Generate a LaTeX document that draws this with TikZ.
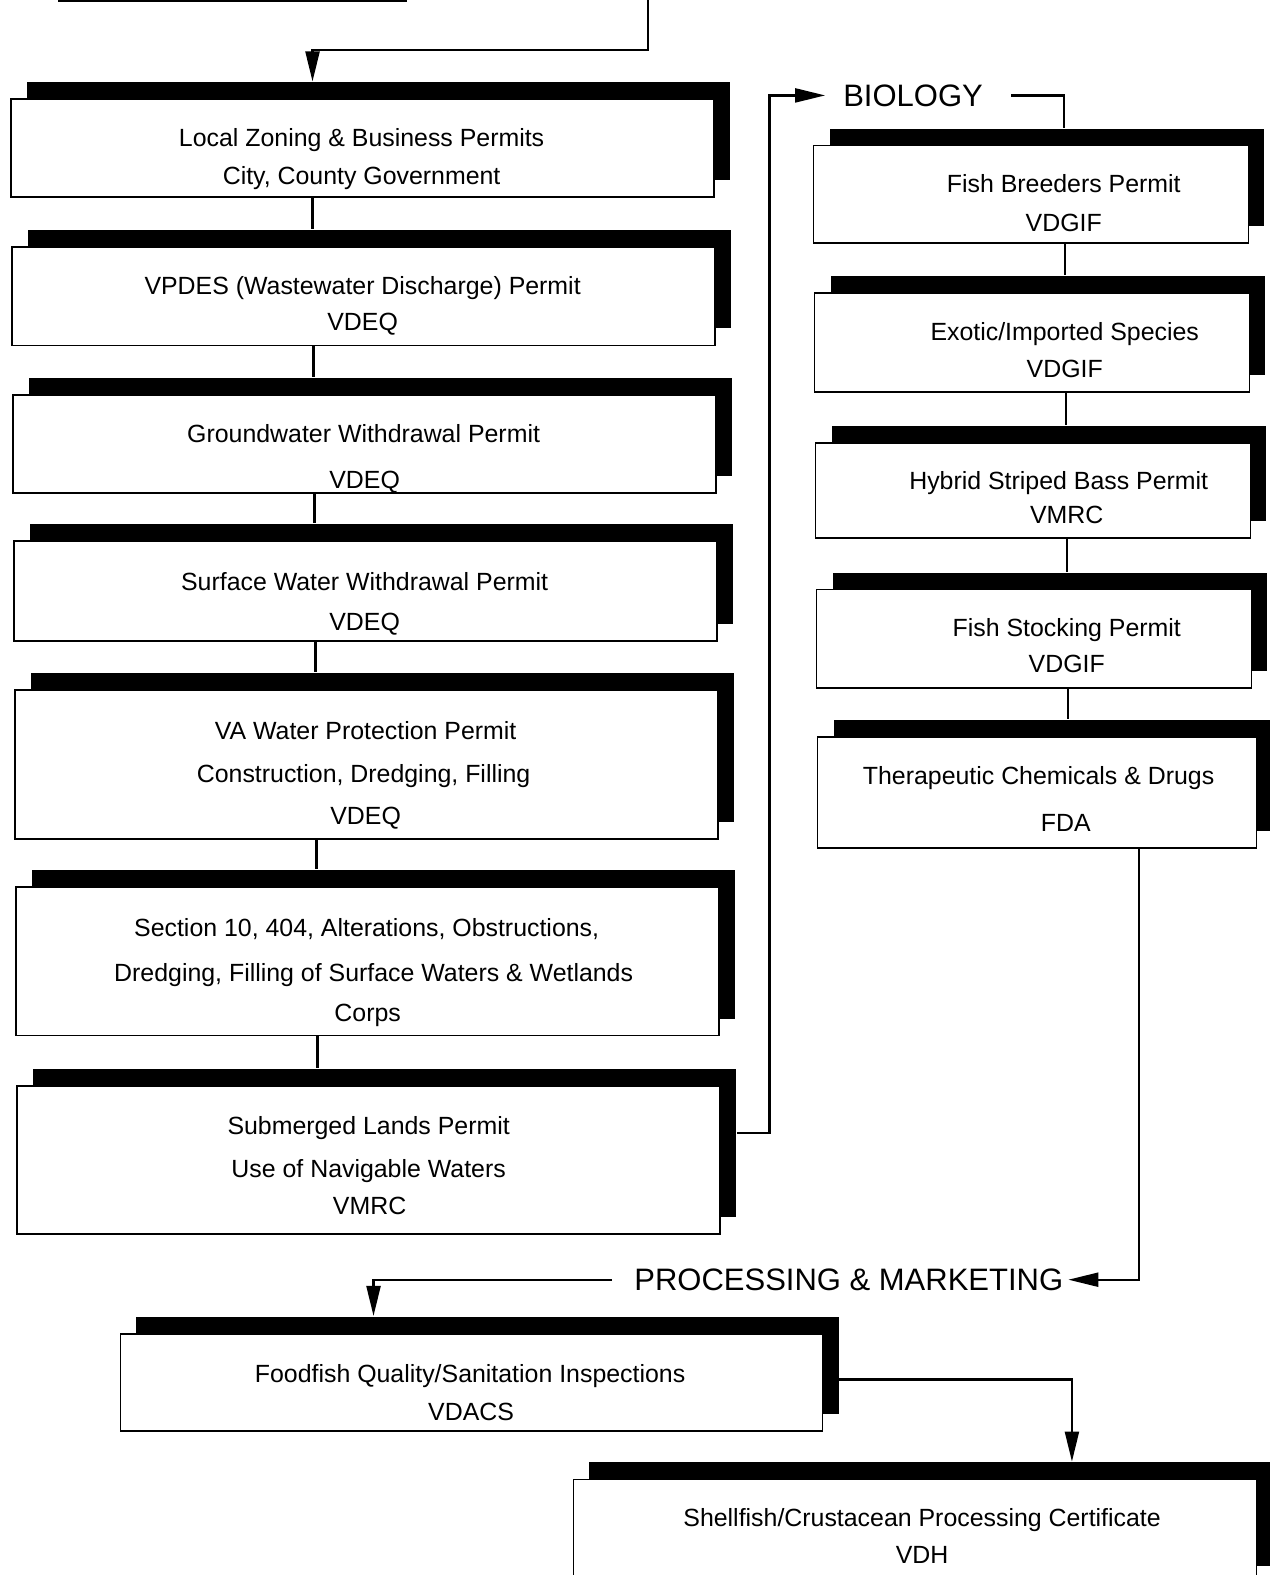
\documentclass[tikz,border=0pt]{standalone}
\usepackage{fontspec}
\setmainfont{Liberation Sans}
\usetikzlibrary{arrows.meta,shadows,calc}
\newcommand\permbox[5]{\node[box,minimum width={(#4-#2)*1.0047pt},minimum height={(#5-#3)*1.0047pt}] (#1) at (#2,#3) {};}
\begin{document}
\begin{tikzpicture}[x=1.0047pt,y=-1.0047pt,
 box/.style={draw,line width=1.8pt,fill=white,inner sep=0pt,anchor=north west,
   general shadow={fill=black,shadow xshift=16pt,shadow yshift=17pt}},
 txt/.style={anchor=base,inner sep=0pt,font=\fontsize{24.9}{29}\selectfont},
 head/.style={inner sep=0pt,font=\fontsize{31}{36}\selectfont},
 conn/.style={line width=2.2pt},
 arr/.style={conn,-{Triangle[length=30pt,width=14pt]}}]
\useasboundingbox (0,0) rectangle (1264,1568);

% fragment of box above
\draw[line width=2.4pt] (58,0.8) -- (405,0.8);
\coordinate (top) at (645,-3);

% left column
\permbox{L1}{10}{98}{710}{195}
\permbox{L2}{11}{245}{711}{343}
\permbox{L3}{12}{392}{712}{490}
\permbox{L4}{13}{538}{713}{637}
\permbox{L5}{14}{686}{714}{834}
\permbox{L6}{15}{882}{715}{1030}
\permbox{L7}{16}{1080}{716}{1228}
% right column
\permbox{R1}{809}{144}{1242}{241}
\permbox{R2}{810}{291}{1243}{389}
\permbox{R3}{811}{440}{1244}{535}
\permbox{R4}{812}{586}{1245}{684}
\permbox{R5}{813}{733}{1250}{843}
% processing
\permbox{P1}{119}{1327}{818}{1424}
\permbox{P2}{570}{1472}{1250}{1575}

% texts
\node[txt] (t1a) at (360,146) {Local Zoning \& Business Permits};
\node[txt] (t1b) at (360,184) {City, County Government};
\node[txt] (t2a) at (361,293) {VPDES (Wastewater Discharge) Permit};
\node[txt] (t2b) at (361,329) {VDEQ};
\node[txt] (t3a) at (362,441) {Groundwater Withdrawal Permit};
\node[txt] (t3b) at (363,486) {VDEQ};
\node[txt] (t4a) at (363,588) {Surface Water Withdrawal Permit};
\node[txt] (t4b) at (363,628) {VDEQ};
\node[txt] (t5a) at (364,736) {VA Water Protection Permit};
\node[txt] (t5b) at (362,779) {Construction, Dredging, Filling};
\node[txt] (t5c) at (364,821) {VDEQ};
\node[txt] (t6a) at (365,932) {Section 10, 404, Alterations, Obstructions,};
\node[txt] (t6b) at (372,977) {Dredging, Filling of Surface Waters \& Wetlands};
\node[txt] (t6c) at (366,1017) {Corps};
\node[txt] (t7a) at (367,1129) {Submerged Lands Permit};
\node[txt] (t7b) at (367,1172) {Use of Navigable Waters};
\node[txt] (t7c) at (368,1209) {VMRC};

\node[txt] (r1a) at (1059,192) {Fish Breeders Permit};
\node[txt] (r1b) at (1059,230) {VDGIF};
\node[txt] (r2a) at (1060,339) {Exotic/Imported Species};
\node[txt] (r2b) at (1060,376) {VDGIF};
\node[txt] (r3a) at (1054,487) {Hybrid Striped Bass Permit};
\node[txt] (r3b) at (1062,521) {VMRC};
\node[txt] (r4a) at (1062,634) {Fish Stocking Permit};
\node[txt] (r4b) at (1062,670) {VDGIF};
\node[txt] (r5a) at (1034,781) {Therapeutic Chemicals \& Drugs};
\node[txt] (r5b) at (1061,828) {FDA};

\node[txt] (p1a) at (468,1376) {Foodfish Quality/Sanitation Inspections};
\node[txt] (p1b) at (469,1414) {VDACS};
\node[txt] (p2a) at (918,1520) {Shellfish/Crustacean Processing Certificate};
\node[txt] (p2b) at (918,1557) {VDH};

% headings
\node[head] (bio) at (909,95) {BIOLOGY};
\node[head] (proc) at (845,1274) {PROCESSING \& MARKETING};

% connectors
\draw[arr] (top) -- (645,50) -| ([xshift=-50pt,yshift=17pt]L1.north);
\draw[conn] ([xshift=-50pt]L1.south) coordinate (c1) -- ([yshift=17pt]L2.north -| c1);
\draw[conn] ([xshift=-50pt]L2.south) coordinate (c2) -- ([yshift=17pt]L3.north -| c2);
\draw[conn] ([xshift=-50pt]L3.south) coordinate (c3) -- ([yshift=17pt]L4.north -| c3);
\draw[conn] ([xshift=-50pt]L4.south) coordinate (c4) -- ([yshift=17pt]L5.north -| c4);
\draw[conn] ([xshift=-50pt]L5.south) coordinate (c5) -- ([yshift=17pt]L6.north -| c5);
\draw[conn] ([xshift=-50pt]L6.south) coordinate (c6) -- ([yshift=17pt]L7.north -| c6);

\coordinate (bturn) at (766,95);
\draw[arr] ([xshift=16pt,yshift=27pt]L7.east) -| (bturn) -- ([xshift=-18pt]bio.west);
\draw[conn] ([xshift=28pt]bio.east) -| ([xshift=33pt,yshift=17pt]R1.north);

\draw[conn] ([xshift=34pt]R1.south) coordinate (d1) -- ([yshift=17pt]R2.north -| d1);
\draw[conn] ([xshift=34pt]R2.south) coordinate (d2) -- ([yshift=17pt]R3.north -| d2);
\draw[conn] ([xshift=34pt]R3.south) coordinate (d3) -- ([yshift=17pt]R4.north -| d3);
\draw[conn] ([xshift=34pt]R4.south) coordinate (d4) -- ([yshift=17pt]R5.north -| d4);

\draw[arr] ([xshift=102pt]R5.south) |- ([xshift=5pt]proc.east);
\draw[arr] ([xshift=-22pt]proc.west) -| ([xshift=-98pt,yshift=17pt]P1.north);
\draw[arr] ([xshift=16pt,yshift=3pt]P1.east) -| ([xshift=157pt,yshift=17pt]P2.north);
\end{tikzpicture}
\end{document}
